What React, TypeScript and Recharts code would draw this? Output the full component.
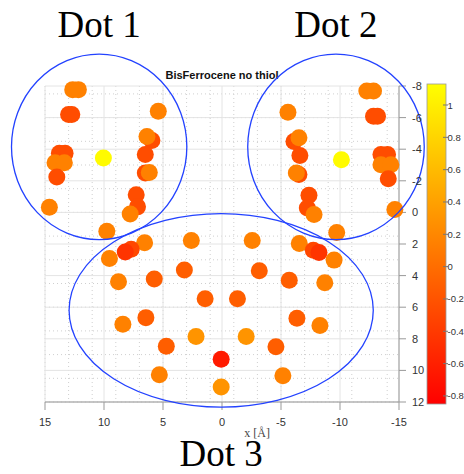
import React from "react";
import { ScatterChart, Scatter, XAxis, YAxis, CartesianGrid } from "recharts";

// atom positions (Å) and partial charge
const posX = [
  12.65, 12.17, 13.0, 12.73, 5.4, 5.94, 6.36, 6.5, 6.5, 6.16, 7.27, 7.16, 7.78,
  13.78, 13.3, 14.15, 13.36, 14.0, 14.63, 10.05,
  -12.27, -12.84, -12.84, -13.18, -5.59, -6.1, -6.52, -6.6, -6.52, -6.3, -7.37,
  -7.23, -7.8, -13.47, -14.03, -13.47, -14.31, -14.09, -14.65, -10.12,
  9.76, 6.56, 2.6, -2.56, -6.55, -9.72, 7.7, 8.2, -7.74, -8.22, 9.54, -9.5,
  8.77, 5.74, 3.19, -3.16, -5.7, -8.71, 1.43, -1.31, 8.4, 6.45, -6.35, -8.3,
  2.2, -2.05, 4.72, -4.57, 0.07, 5.31, -5.16, 0.07,
];
const posY = [
  -7.77, -7.77, -6.19, -6.19, -6.4, -4.55, -4.8, -3.67, -2.49, -2.53, -1.12,
  -0.35, 0.1, -3.75, -3.75, -3.14, -3.14, -2.24, -0.33, -3.44,
  -7.68, -7.68, -6.09, -6.09, -6.34, -4.49, -4.72, -3.6, -2.4, -2.49, -1.08,
  -0.28, 0.14, -3.67, -3.67, -3.02, -3.02, -2.13, -0.18, -3.33,
  1.19, 1.92, 1.78, 1.78, 1.97, 1.27, 2.33, 2.5, 2.39, 2.54, 2.92, 3.02,
  4.39, 4.22, 3.65, 3.69, 4.3, 4.45, 5.46, 5.46, 7.08, 6.66, 6.7, 7.16,
  7.86, 7.86, 8.47, 8.5, 9.29, 10.28, 10.34, 11.05,
];
const charge = [
  0.15, 0.15, -0.25, -0.25, 0.15, -0.25, 0.15, -0.25, -0.25, 0.15, -0.25,
  -0.25, 0.15, -0.25, -0.25, 0.15, 0.15, -0.25, 0.15, 1.1,
  0.15, 0.15, -0.25, -0.25, 0.15, -0.25, 0.15, -0.25, -0.25, 0.15, -0.25,
  -0.25, 0.15, -0.25, -0.25, 0.15, 0.15, -0.25, 0.15, 1.1,
  0.15, 0.15, 0.15, 0.15, 0.15, 0.15, -0.3, -0.45, -0.3, -0.45, 0.15, 0.15,
  0.15, -0.12, -0.12, -0.12, -0.12, 0.15, -0.12, -0.12, 0.15, -0.12, -0.12,
  0.15, 0.3, 0.3, -0.12, -0.12, -0.65, 0.15, 0.15, 0.3,
];

// quantum dot regions (ellipses, in Å)
const regionNames = ["Dot 1", "Dot 2", "Dot 3"];
const regionX = [10.41, -9.66, 0.07];
const regionY = [-4.15, -4.15, 6.2];
const regionRx = [7.43, 7.48, 12.89];
const regionRy = [5.87, 5.87, 6.12];
const regionLabelSide = ["top", "top", "bottom"];

const xTicks = [15, 10, 5, 0, -5, -10, -15];
const yTicks = [-8, -6, -4, -2, 0, 2, 4, 6, 8, 10, 12];
const cbTicks = [1, 0.8, 0.6, 0.4, 0.2, 0, -0.2, -0.4, -0.6, -0.8];
const cbMin = -0.85;
const cbMax = 1.13;

const W = 464;
const H = 474;
const margin = { top: 86, right: 37, bottom: 42, left: 45 };
const yAxisW = 28;
const xAxisH = 30;
const plotW = W - margin.left - margin.right - yAxisW;
const plotH = H - margin.top - margin.bottom - xAxisH;
const pxPerX = plotW / 30;
const pxPerY = plotH / 20;

const xMinor = Array.from({ length: 31 }, (_, i) => -15 + i);
const yMinor = Array.from({ length: 41 }, (_, i) => -8 + i * 0.5);

const CB = { x: 427, y: 84, w: 19, h: 320 };
const cbY = (v: number) => CB.y + CB.h - ((v - cbMin) / (cbMax - cbMin)) * CB.h;

// matlab "autumn"
const autumn = (v: number) => {
  const t = Math.max(0, Math.min(1, (v - cbMin) / (cbMax - cbMin)));
  return `rgb(255, ${Math.round(255 * t)}, 0)`;
};

const atoms = posX.map((x, i) => ({ x, y: posY[i], q: charge[i] }));
const regions = regionNames.map((name, i) => ({
  name,
  x: regionX[i],
  y: regionY[i],
  rx: regionRx[i],
  ry: regionRy[i],
  side: regionLabelSide[i],
}));

const AtomShape = (props: any) => {
  const { cx, cy, payload } = props;
  return <circle cx={cx} cy={cy} r={8.5} fill={autumn(payload.q)} />;
};

const RegionShape = (props: any) => {
  const { cx, cy, payload } = props;
  const rx = payload.rx * pxPerX;
  const ry = payload.ry * pxPerY;
  const ty = payload.side === "top" ? cy - ry - 17 : cy + ry + 59;
  return (
    <g>
      <ellipse
        cx={cx}
        cy={cy}
        rx={rx}
        ry={ry}
        fill="none"
        stroke="#2342ff"
        strokeWidth={1.3}
      />
      <text
        x={cx}
        y={ty}
        textAnchor="middle"
        fontFamily="'Liberation Serif', serif"
        fontSize={37}
        fill="#000"
      >
        {payload.name}
      </text>
    </g>
  );
};

const tickStyle = {
  fontSize: 11,
  fill: "#333",
  fontFamily: "'Liberation Sans', Arial, sans-serif",
};

export default function App() {
  return (
    <div style={{ position: "absolute", left: 0, top: 0, background: "#fff" }}>
      <ScatterChart width={W} height={H} margin={margin}>
        <defs>
          <linearGradient id="autumnGrad" x1="0" y1="0" x2="0" y2="1">
            <stop offset="0%" stopColor={autumn(cbMax)} />
            <stop offset="100%" stopColor={autumn(cbMin)} />
          </linearGradient>
        </defs>
        <CartesianGrid
          verticalValues={xMinor}
          horizontalValues={yMinor}
          stroke="#cfcfcf"
          strokeDasharray="1 3"
        />
        <CartesianGrid
          verticalValues={xTicks}
          horizontalValues={yTicks}
          stroke="#e4e4e4"
        />
        <XAxis
          type="number"
          dataKey="x"
          domain={[-15, 15]}
          reversed
          ticks={xTicks}
          height={xAxisH}
          tick={tickStyle}
          tickSize={8}
          tickMargin={8}
          stroke="#999"
        />
        <YAxis
          type="number"
          dataKey="y"
          domain={[-8, 12]}
          reversed
          orientation="right"
          ticks={yTicks}
          width={yAxisW}
          tick={{ ...tickStyle, textAnchor: "start" }}
          tickSize={7}
          tickMargin={6}
          stroke="#999"
        />
        <Scatter
          data={atoms}
          shape={<AtomShape />}
          isAnimationActive={false}
        />
        <Scatter
          data={regions}
          shape={<RegionShape />}
          isAnimationActive={false}
        />
        <text
          x={222}
          y={79}
          textAnchor="middle"
          fontFamily="'Liberation Sans', Arial, sans-serif"
          fontWeight="bold"
          fontSize={11}
          fill="#111"
        >
          BisFerrocene no thiol
        </text>
        <text
          x={270}
          y={437}
          textAnchor="end"
          fontFamily="'Liberation Serif', serif"
          fontSize={12}
          fill="#444"
        >
          x [Å]
        </text>
        <rect
          x={CB.x}
          y={CB.y}
          width={CB.w}
          height={CB.h}
          fill="url(#autumnGrad)"
          stroke="#999"
          strokeWidth={0.8}
        />
        {cbTicks.map((t) => (
          <g key={t}>
            <line
              x1={CB.x + CB.w - 3}
              x2={CB.x + CB.w + 2}
              y1={cbY(t)}
              y2={cbY(t)}
              stroke="#777"
            />
            <text
              x={CB.x + CB.w + 1.5}
              y={cbY(t) + 3.5}
              fontFamily="'Liberation Sans', Arial, sans-serif"
              fontSize={9.5}
              fill="#333"
            >
              {t}
            </text>
          </g>
        ))}
      </ScatterChart>
    </div>
  );
}
